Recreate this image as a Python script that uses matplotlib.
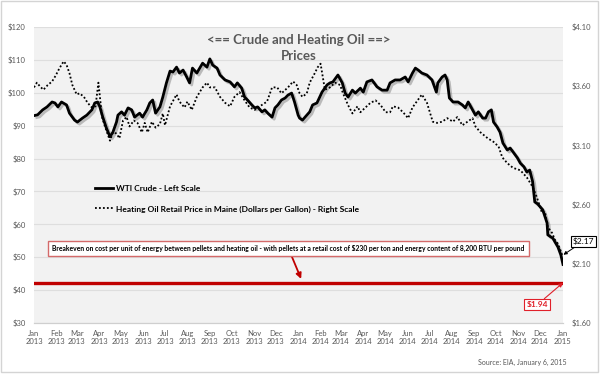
import matplotlib
matplotlib.use("Agg")
import matplotlib.pyplot as plt
import matplotlib.patheffects as pe
from matplotlib.lines import Line2D
from matplotlib.patches import Rectangle
import pandas as pd

# ---------------- data ----------------
crude_dates = [
    "2013-01-02", "2013-01-06", "2013-01-13", "2013-01-19", "2013-01-26", "2013-01-30", "2013-02-03", "2013-02-08", "2013-02-15", "2013-02-19",
    "2013-02-26", "2013-03-02", "2013-03-09", "2013-03-15", "2013-03-22", "2013-03-26", "2013-03-30", "2013-04-02", "2013-04-06", "2013-04-11",
    "2013-04-16", "2013-04-20", "2013-04-25", "2013-04-27", "2013-05-02", "2013-05-06", "2013-05-11", "2013-05-16", "2013-05-20", "2013-05-27",
    "2013-05-31", "2013-06-06", "2013-06-10", "2013-06-14", "2013-06-18", "2013-06-24", "2013-06-28", "2013-07-03", "2013-07-08", "2013-07-12",
    "2013-07-17", "2013-07-21", "2013-07-26", "2013-07-31", "2013-08-04", "2013-08-08", "2013-08-14", "2013-08-18", "2013-08-22", "2013-08-28",
    "2013-09-01", "2013-09-05", "2013-09-11", "2013-09-15", "2013-09-22", "2013-09-29", "2013-10-05", "2013-10-09", "2013-10-15", "2013-10-19",
    "2013-10-23", "2013-10-29", "2013-11-02", "2013-11-06", "2013-11-12", "2013-11-16", "2013-11-20", "2013-11-26", "2013-11-30", "2013-12-04",
    "2013-12-09", "2013-12-14", "2013-12-18", "2013-12-23", "2013-12-27", "2014-01-01", "2014-01-03", "2014-01-07", "2014-01-13", "2014-01-17",
    "2014-01-21", "2014-01-27", "2014-02-03", "2014-02-10", "2014-02-14", "2014-02-18", "2014-02-25", "2014-03-03", "2014-03-07", "2014-03-11",
    "2014-03-17", "2014-03-21", "2014-03-28", "2014-04-01", "2014-04-06", "2014-04-13", "2014-04-20", "2014-04-27", "2014-05-04", "2014-05-08",
    "2014-05-15", "2014-05-22", "2014-05-29", "2014-06-02", "2014-06-08", "2014-06-12", "2014-06-16", "2014-06-21", "2014-06-28", "2014-07-05",
    "2014-07-09", "2014-07-11", "2014-07-13", "2014-07-19", "2014-07-23", "2014-07-26", "2014-07-29", "2014-08-03", "2014-08-10", "2014-08-16",
    "2014-08-20", "2014-08-24", "2014-08-30", "2014-09-03", "2014-09-07", "2014-09-13", "2014-09-17", "2014-09-21", "2014-09-25", "2014-09-28",
    "2014-10-03", "2014-10-07", "2014-10-11", "2014-10-17", "2014-10-21", "2014-10-25", "2014-10-31", "2014-11-04", "2014-11-09", "2014-11-13",
    "2014-11-17", "2014-11-21", "2014-11-24", "2014-11-28", "2014-12-05", "2014-12-11", "2014-12-12", "2014-12-16", "2014-12-19", "2014-12-22",
    "2014-12-26", "2014-12-30", "2015-01-02",
]
crude_prices = [
    93.1, 93.3, 94.8, 95.7, 97.2, 96.9, 95.7, 97.2, 96.3, 93.8,
    91.7, 91.1, 92.3, 93.2, 94.8, 96.9, 97.2, 95.7, 92.6, 89.3,
    86.6, 88.0, 91.1, 93.2, 94.2, 93.2, 95.4, 94.8, 92.6, 93.8,
    92.6, 94.8, 96.9, 97.8, 93.8, 95.7, 98.7, 103.0, 106.6, 106.3,
    107.8, 106.0, 106.9, 104.8, 103.0, 107.5, 106.0, 107.5, 109.0, 107.8,
    110.3, 108.4, 107.5, 105.4, 103.9, 103.3, 101.8, 103.0, 101.4, 98.7,
    97.8, 96.3, 95.4, 95.7, 94.2, 94.8, 93.8, 92.6, 95.4, 96.3,
    97.8, 98.4, 99.3, 99.9, 97.2, 93.2, 92.3, 91.7, 93.2, 94.2,
    96.3, 96.9, 100.2, 102.4, 103.0, 103.3, 105.4, 103.0, 99.9, 98.7,
    100.8, 99.9, 101.4, 100.2, 103.3, 103.9, 101.8, 100.8, 100.8, 103.0,
    103.9, 103.9, 104.8, 103.3, 106.0, 107.5, 106.9, 106.0, 105.4, 103.9,
    101.4, 100.2, 103.0, 104.8, 105.4, 103.9, 98.4, 97.2, 97.2, 96.3,
    95.4, 97.2, 94.8, 93.2, 94.2, 92.3, 92.3, 94.2, 94.8, 91.1,
    89.6, 88.0, 84.7, 82.6, 83.2, 82.0, 80.2, 78.6, 77.5, 75.9,
    76.5, 73.0, 66.8, 66.2, 64.4, 60.4, 56.8, 56.2, 55.8, 54.6,
    53.1, 50.7, 47.8,
]
oil_dates = [
    "2013-01-01", "2013-01-05", "2013-01-09", "2013-01-14", "2013-01-20", "2013-01-26", "2013-01-31", "2013-02-05", "2013-02-11", "2013-02-15",
    "2013-02-19", "2013-02-23", "2013-03-01", "2013-03-05", "2013-03-11", "2013-03-16", "2013-03-22", "2013-03-27", "2013-03-31", "2013-04-05",
    "2013-04-09", "2013-04-16", "2013-04-20", "2013-04-25", "2013-04-29", "2013-05-04", "2013-05-09", "2013-05-13", "2013-05-19", "2013-05-24",
    "2013-05-30", "2013-06-03", "2013-06-07", "2013-06-13", "2013-06-18", "2013-06-24", "2013-06-28", "2013-07-01", "2013-07-08", "2013-07-17",
    "2013-07-21", "2013-07-28", "2013-08-01", "2013-08-07", "2013-08-14", "2013-08-22", "2013-08-28", "2013-09-01", "2013-09-08", "2013-09-15",
    "2013-09-22", "2013-09-29", "2013-10-05", "2013-10-12", "2013-10-19", "2013-10-26", "2013-11-02", "2013-11-09", "2013-11-19", "2013-11-26",
    "2013-12-03", "2013-12-09", "2013-12-18", "2013-12-25", "2013-12-30", "2014-01-03", "2014-01-07", "2014-01-13", "2014-01-17", "2014-01-24",
    "2014-01-28", "2014-02-01", "2014-02-04", "2014-02-07", "2014-02-14", "2014-02-21", "2014-02-28", "2014-03-04", "2014-03-11", "2014-03-17",
    "2014-03-24", "2014-03-28", "2014-04-04", "2014-04-11", "2014-04-18", "2014-04-25", "2014-05-02", "2014-05-08", "2014-05-12", "2014-05-19",
    "2014-05-26", "2014-06-02", "2014-06-08", "2014-06-15", "2014-06-21", "2014-06-28", "2014-07-02", "2014-07-06", "2014-07-12", "2014-07-19",
    "2014-07-26", "2014-08-03", "2014-08-09", "2014-08-16", "2014-08-23", "2014-08-30", "2014-09-03", "2014-09-10", "2014-09-20", "2014-09-28",
    "2014-10-05", "2014-10-10", "2014-10-17", "2014-10-25", "2014-11-04", "2014-11-13", "2014-11-21", "2014-11-27", "2014-12-04", "2014-12-08",
    "2014-12-12", "2014-12-18", "2014-12-22", "2014-12-26", "2015-01-01",
]
oil_prices = [
    3.59, 3.63, 3.60, 3.57, 3.61, 3.64, 3.69, 3.75, 3.81, 3.78,
    3.71, 3.61, 3.53, 3.54, 3.51, 3.46, 3.42, 3.43, 3.63, 3.34,
    3.26, 3.14, 3.21, 3.20, 3.16, 3.31, 3.34, 3.26, 3.31, 3.29,
    3.21, 3.29, 3.21, 3.30, 3.25, 3.28, 3.37, 3.27, 3.43, 3.53,
    3.47, 3.42, 3.47, 3.40, 3.51, 3.59, 3.63, 3.59, 3.59, 3.51,
    3.46, 3.43, 3.51, 3.55, 3.48, 3.42, 3.40, 3.43, 3.47, 3.59,
    3.59, 3.54, 3.59, 3.64, 3.61, 3.54, 3.51, 3.54, 3.63, 3.71,
    3.76, 3.79, 3.68, 3.57, 3.59, 3.63, 3.61, 3.54, 3.44, 3.37,
    3.43, 3.38, 3.42, 3.46, 3.48, 3.44, 3.38, 3.38, 3.43, 3.42,
    3.38, 3.33, 3.42, 3.48, 3.53, 3.46, 3.38, 3.30, 3.29, 3.30,
    3.33, 3.30, 3.34, 3.27, 3.30, 3.33, 3.26, 3.21, 3.16, 3.13,
    3.09, 3.00, 2.95, 2.91, 2.89, 2.83, 2.75, 2.66, 2.53, 2.54,
    2.41, 2.36, 2.30, 2.27, 2.17,
]
left_ticks = [30, 40, 50, 60, 70, 80, 90, 100, 110, 120]
right_ticks = [1.60, 2.10, 2.60, 3.10, 3.60, 4.10]
month_ticks = pd.date_range("2013-01-01", "2015-01-01", freq="MS")
month_labels = [d.strftime("%b\n%Y") for d in month_ticks]
breakeven_oil = 1.94
last_oil = oil_prices[-1]

title_text = "<== Crude and Heating Oil ==>\nPrices"
crude_label = "WTI Crude - Left Scale"
oil_label = "Heating Oil Retail Price in Maine (Dollars per Gallon) - Right Scale"
breakeven_text = ("Breakeven on cost per unit of energy between pellets and heating oil - with pellets at a retail "
                  "cost of $230 per ton and energy content of 8,200 BTU per pound")
source_text = "Source: EIA, January 6, 2015"

assert len(crude_dates) == len(crude_prices)
assert len(oil_dates) == len(oil_prices)

cd = pd.to_datetime(crude_dates)
od = pd.to_datetime(oil_dates)

# ---------------- figure ----------------
FONT = ["Lato", "DejaVu Sans"]
plt.rcParams["font.family"] = FONT

fig = plt.figure(figsize=(6, 3.75), dpi=100)
fig.patch.set_facecolor("white")
fig.patches.append(Rectangle((0.002, 0.007), 0.994, 0.990, transform=fig.transFigure,
                             fill=False, edgecolor="#d4d4d4", linewidth=1.0))

ax = fig.add_axes([34 / 600, 52 / 375, 529 / 600, 296 / 375])
ax.set_facecolor("#f2f2f2")
ax2 = ax.twinx()
ax2.patch.set_visible(False)

for a in (ax, ax2):
    for s in ("left", "right", "top"):
        a.spines[s].set_visible(False)
    a.spines["bottom"].set_color("#cfcfcf")
    a.tick_params(length=0)

ax.set_ylim(30, 120)
ax2.set_ylim(1.60, 4.10)
ax.set_xlim(pd.Timestamp("2013-01-01"), pd.Timestamp("2015-01-02"))

ax.set_yticks(left_ticks)
ax.set_yticklabels([f"${v}" for v in left_ticks], fontsize=5.5, color="#595959")
ax2.set_yticks(right_ticks)
ax2.set_yticklabels([f"${v:.2f}" for v in right_ticks], fontsize=5.5, color="#595959")
ax.tick_params(axis="y", pad=6)
ax2.tick_params(axis="y", pad=6)
ax.set_xticks(month_ticks)
ax.set_xticklabels(month_labels, fontsize=5.5, color="#595959", linespacing=1.25)
ax.tick_params(axis="x", pad=5)

ax.grid(axis="y", color="#dedede", linewidth=0.8)
ax.set_axisbelow(True)

# crude line with shadow
ax.plot(cd, crude_prices, color="black", linewidth=2.0, solid_joinstyle="round",
        path_effects=[pe.SimpleLineShadow(offset=(1.5, -1.5), shadow_color="#777777", alpha=0.45),
                      pe.Normal()], zorder=3)
# heating oil dotted
ax2.plot(od, oil_prices, color="black", linewidth=1.3, linestyle=(0, (1, 1.2)), zorder=3)

# breakeven line
ax2.axhline(breakeven_oil, color="#c00000", linewidth=2.4, zorder=2)

# title
ax.text(0.5, 0.975, title_text, transform=ax.transAxes, ha="center", va="top",
        fontsize=9.5, fontweight="bold", color="#595959", linespacing=1.4)

# legend
handles = [Line2D([], [], color="black", linewidth=2.0),
           Line2D([], [], color="black", linewidth=1.3, linestyle=(0, (1, 1.2)))]
leg = ax.legend(handles, [crude_label, oil_label], loc="upper left",
                bbox_to_anchor=(0.115, 0.465), frameon=False, borderaxespad=0, borderpad=0,
                handlelength=2.2, handletextpad=0.3, labelspacing=1.55,
                prop={"family": FONT, "weight": "bold", "size": 6})

# breakeven text box with arrow
ax2.annotate(breakeven_text, xy=(0.508, breakeven_oil), xycoords=("axes fraction", "data"),
             xytext=(0.481, 0.252), textcoords="axes fraction", ha="center", va="center",
             fontsize=4.85, fontweight="bold", color="black",
             bbox=dict(boxstyle="square,pad=0.6", facecolor="white", edgecolor="#d46a6a", linewidth=1.0),
             arrowprops=dict(arrowstyle="-|>", color="#c00000", linewidth=1.3, shrinkA=0, shrinkB=3,
                             mutation_scale=8), zorder=5)

# $1.94 annotation
ax2.annotate(f"${breakeven_oil:.2f}", xy=(1.0, breakeven_oil), xycoords=("axes fraction", "data"),
             xytext=(-18.5, -15.8), textcoords="offset points", ha="center", va="center",
             fontsize=6, fontweight="bold", color="#e0202a",
             bbox=dict(boxstyle="square,pad=0.25", facecolor="white", edgecolor="#e0202a", linewidth=0.8),
             arrowprops=dict(arrowstyle="-|>", color="#e0202a", linewidth=0.8, shrinkA=0, shrinkB=0,
                             mutation_scale=6), zorder=6, annotation_clip=False)

# $2.17 annotation
ax2.annotate(f"${last_oil:.2f}", xy=(od[-1], last_oil), xycoords="data",
             xytext=(15, 10), textcoords="offset points", ha="center", va="center",
             fontsize=6, color="black",
             bbox=dict(boxstyle="square,pad=0.22", facecolor="white", edgecolor="black", linewidth=0.8),
             arrowprops=dict(arrowstyle="-|>", color="black", linewidth=0.7, shrinkA=0, shrinkB=1,
                             mutation_scale=5), zorder=6, annotation_clip=False)

# source
fig.text(567 / 600, 1 - 362 / 375, source_text, ha="right", va="center", fontsize=5, color="#595959")

fig.savefig("out.png", dpi=100)
